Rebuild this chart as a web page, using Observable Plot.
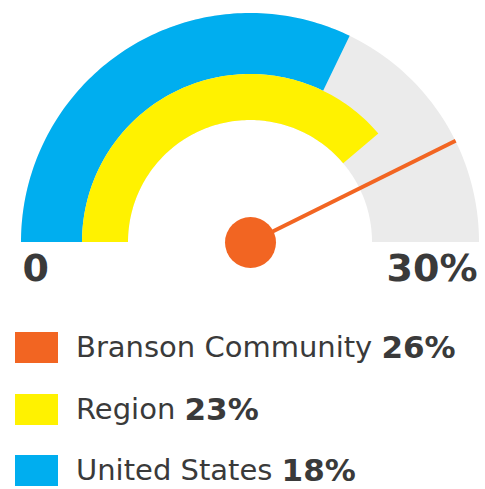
<!DOCTYPE html>
<html>
<head>
<meta charset="utf-8">
<script src="https://cdn.jsdelivr.net/npm/d3@7"></script>
<script src="https://cdn.jsdelivr.net/npm/@observablehq/plot@0.6"></script>
<style>
  html, body { margin: 0; padding: 0; background: #fff; }
  body { width: 485px; height: 489px; overflow: hidden; font-family: "DejaVu Sans", Verdana, sans-serif; color: #3a3a3a; }
  #legend { position: absolute; left: 0; top: 300px; width: 485px; }
  .row { position: absolute; left: 15px; display: flex; align-items: center; white-space: nowrap; line-height: 1; }
  .sw { width: 43px; height: 31px; margin-right: 18px; }
  .lab { font-size: 29px; }
  .val { font-size: 31px; font-weight: bold; }
</style>
</head>
<body>
<div id="chart"></div>
<div id="legend"></div>
<script>
const categories = ["Branson Community", "Region", "United States"];
const labelValues = [26, 23, 18];          // values printed in the legend
const gaugeValues = [25.6, 23.3, 19.3];    // positions as drawn on the gauge
const colors = ["#F26522", "#FFF200", "#00AEEF"];
const gaugeMin = 0, gaugeMax = 30;
const tickLabels = ["0", "30%"];

// ring geometry (in pixel-like units)
const R_OUT = 229, R_MID = 168, R_IN = 122;
const angle = v => Math.PI * (1 - (v - gaugeMin) / (gaugeMax - gaugeMin));
function ring(v, r0, r1, key) {
  const n = 120, pts = [];
  for (let i = 0; i <= n; i++) {
    const a = angle(gaugeMin + (v - gaugeMin) * i / n);
    pts.push({key, x1: r1 * Math.cos(a), y1: r1 * Math.sin(a), x2: r0 * Math.cos(a), y2: r0 * Math.sin(a)});
  }
  return pts;
}
const bg = ring(gaugeMax, R_IN, R_OUT, "bg");
const us = ring(gaugeValues[2], R_MID, R_OUT, "us");
const region = ring(gaugeValues[1], R_IN, R_MID, "region");
const na = angle(gaugeValues[0]);
const needle = [{x1: 0, y1: 0, x2: R_OUT * Math.cos(na), y2: R_OUT * Math.sin(na)}];

const plot = Plot.plot({
  width: 485, height: 300,
  margin: 0,
  x: {domain: [-250, 235], axis: null},
  y: {domain: [-58, 242], axis: null},
  marks: [
    Plot.area(bg, {x1: "x1", y1: "y1", x2: "x2", y2: "y2", fill: "#EBEBEB"}),
    Plot.area(us, {x1: "x1", y1: "y1", x2: "x2", y2: "y2", fill: colors[2]}),
    Plot.area(region, {x1: "x1", y1: "y1", x2: "x2", y2: "y2", fill: colors[1]}),
    Plot.link(needle, {x1: "x1", y1: "y1", x2: "x2", y2: "y2", stroke: colors[0], strokeWidth: 4}),
    Plot.dot([{x: 0, y: 0}], {x: "x", y: "y", r: 25.5, fill: colors[0]}),
    Plot.text([{x: -R_OUT + 1, y: -38, t: tickLabels[0]}], {x: "x", y: "y", text: "t", textAnchor: "start", fontSize: 38, fontWeight: "bold", fill: "#3a3a3a", fontFamily: "DejaVu Sans", lineAnchor: "bottom"}),
    Plot.text([{x: R_OUT - 2, y: -38, t: tickLabels[1]}], {x: "x", y: "y", text: "t", textAnchor: "end", fontSize: 38, fontWeight: "bold", fill: "#3a3a3a", fontFamily: "DejaVu Sans", lineAnchor: "bottom"})
  ]
});
document.getElementById("chart").append(plot);

const legend = document.getElementById("legend");
const rowTops = [32, 94, 155];
categories.forEach((c, i) => {
  const row = document.createElement("div");
  row.className = "row";
  row.style.top = rowTops[i] + "px";
  row.innerHTML = `<div class="sw" style="background:${colors[i]}"></div><span class="lab">${c}&nbsp;</span><span class="val">${labelValues[i]}%</span>`;
  legend.append(row);
});
</script>
</body>
</html>
